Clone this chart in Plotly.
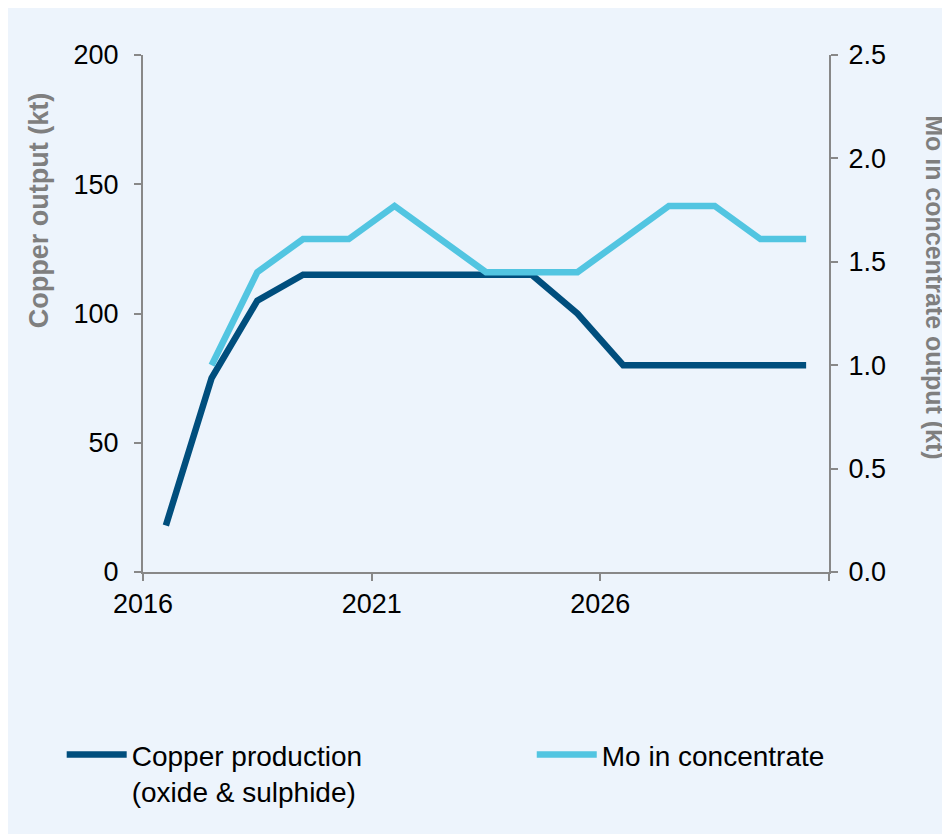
import plotly.graph_objects as go

years = list(range(2016, 2031))
copper_kt = [18, 75, 105, 115, 115, 115, 115, 115, 115, 100, 80, 80, 80, 80, 80]
mo_kt = [None, 1.0, 1.45, 1.61, 1.61, 1.77, 1.61, 1.45, 1.45, 1.45, 1.61, 1.77, 1.77, 1.61, 1.61]
tick_labels = ["2016", "2021", "2026", ""]
tick_years = [2016, 2021, 2026, 2031]

DARK = "#004E7D"
LIGHT = "#52C5E1"
BG = "#EDF4FC"
AXIS = "#888888"
FONT = "Liberation Sans, Arial, sans-serif"

fig = go.Figure()
fig.add_trace(go.Scatter(
    x=years, y=copper_kt, mode="lines", name="Copper production<br>(oxide & sulphide)",
    line=dict(color=DARK, width=6.5), yaxis="y", legend="legend"))
fig.add_trace(go.Scatter(
    x=years, y=mo_kt, mode="lines", name="Mo in concentrate",
    line=dict(color=LIGHT, width=6.5), yaxis="y2", connectgaps=False, legend="legend2"))

legend_common = dict(orientation="h", xref="container", yref="container",
                     y=0.126, xanchor="left", yanchor="top", itemwidth=60,
                     valign="top", font=dict(size=28, family=FONT),
                     bgcolor="rgba(0,0,0,0)")

fig.update_layout(
    width=942, height=826,
    margin=dict(l=135, r=121, t=47, b=262),
    paper_bgcolor=BG, plot_bgcolor=BG,
    font=dict(family=FONT, size=27, color="#000000"),
    showlegend=True,
    legend=dict(x=0.057, **legend_common),
    legend2=dict(x=0.556, **legend_common),
    xaxis=dict(range=[2015.5, 2030.5],
               tickvals=[t - 0.5 for t in tick_years], ticktext=tick_labels,
               showgrid=False, zeroline=False, showline=True, linecolor=AXIS, linewidth=2,
               ticks="outside", ticklen=7, tickwidth=1.5, tickcolor=AXIS,
               tickfont=dict(size=27)),
    yaxis=dict(range=[0, 200], tickvals=[0, 50, 100, 150, 200],
               showgrid=False, zeroline=False, showline=True, linecolor=AXIS, linewidth=2,
               ticks="outside", ticklen=7, tickwidth=1.5, tickcolor=AXIS,
               ticklabelstandoff=10, tickfont=dict(size=27)),
    yaxis2=dict(range=[0, 2.5], tickvals=[0, 0.5, 1.0, 1.5, 2.0, 2.5], tickformat=".1f",
                overlaying="y", side="right",
                showgrid=False, zeroline=False, showline=True, linecolor=AXIS, linewidth=2,
                ticks="outside", ticklen=7, tickwidth=1.5, tickcolor=AXIS,
                ticklabelstandoff=5, tickfont=dict(size=27)),
    annotations=[
        dict(text="<b>Copper output (kt)</b>", xref="paper", yref="paper",
             x=-0.1516, y=0.698, xanchor="center", yanchor="middle", textangle=-90,
             showarrow=False, font=dict(size=27, color="#7F7F7F", family=FONT)),
        dict(text="<b>Mo in concentrate output (kt)</b>", xref="paper", yref="paper",
             x=1.1545, y=0.551, xanchor="center", yanchor="middle", textangle=90,
             showarrow=False, font=dict(size=25, color="#7F7F7F", family=FONT)),
    ],
)

fig.write_html("out.html")
